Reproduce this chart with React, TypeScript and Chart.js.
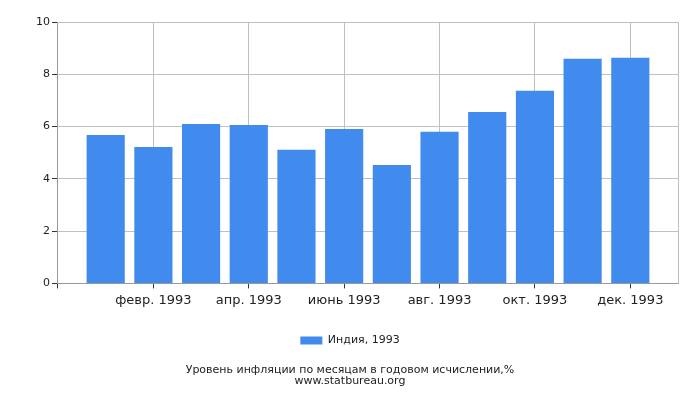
import React, { useEffect, useRef } from "react";
import Chart, { ChartConfiguration } from "chart.js/auto";

// month index 1..12 on a linear axis (0..13), value = inflation %
const months = [1, 2, 3, 4, 5, 6, 7, 8, 9, 10, 11, 12];
const values = [5.68, 5.22, 6.1, 6.06, 5.11, 5.91, 4.53, 5.8, 6.56, 7.37, 8.59, 8.63];
const tickLabels: Record<number, string> = {
  2: "февр. 1993",
  4: "апр. 1993",
  6: "июнь 1993",
  8: "авг. 1993",
  10: "окт. 1993",
  12: "дек. 1993",
};
const seriesName = "Индия, 1993";
const titleLines = ["Уровень инфляции по месяцам в годовом исчислении,%", "www.statbureau.org"];

const font = "'DejaVu Sans', Verdana, sans-serif";

const frame = {
  id: "frame",
  afterDraw(chart: Chart) {
    const { ctx, chartArea } = chart;
    ctx.save();
    ctx.strokeStyle = "#c0c0c0";
    ctx.lineWidth = 1;
    ctx.beginPath();
    ctx.moveTo(chartArea.right + 0.5, chartArea.top);
    ctx.lineTo(chartArea.right + 0.5, chartArea.bottom);
    ctx.stroke();
    ctx.restore();
  },
};

const App: React.FC = () => {
  const chartRef = useRef<HTMLCanvasElement | null>(null);

  useEffect(() => {
    document.body.style.margin = "0";
    if (!chartRef.current) return;
    const ctx = chartRef.current.getContext("2d");
    if (!ctx) return;

    const config: ChartConfiguration = {
      type: "bar",
      data: {
        datasets: [
          {
            label: seriesName,
            data: months.map((m, i) => ({ x: m, y: values[i] })),
            backgroundColor: "#428bee",
            borderWidth: 0,
            barPercentage: 1,
            categoryPercentage: 0.8,
          },
        ],
      },
      plugins: [frame],
      options: {
        animation: false,
        responsive: true,
        maintainAspectRatio: false,
        layout: { padding: { top: 22, right: 22, left: 22, bottom: 13 } },
        scales: {
          x: {
            type: "linear",
            min: 0,
            max: 13,
            offset: false,
            afterFit: (scale) => {
              scale.height += 15;
            },
            ticks: {
              stepSize: 1,
              autoSkip: false,
              maxRotation: 0,
              includeBounds: false,
              padding: 4,
              color: "#222",
              font: { family: font, size: 13 },
              callback: (v) => tickLabels[v as number] ?? "",
            },
            grid: {
              offset: false,
              color: (c) => ((c.tick?.value as number) % 2 === 0 ? "#c0c0c0" : "transparent"),
              tickColor: (c) => ((c.tick?.value as number) % 2 === 0 ? "#333" : "transparent"),
              tickLength: 5,
            },
            border: { color: "#999" },
          },
          y: {
            min: 0,
            max: 10,
            afterFit: (scale) => {
              scale.width += 12;
            },
            ticks: {
              stepSize: 2,
              color: "#222",
              font: { family: font, size: 11 },
              padding: 2,
            },
            grid: { color: "#c0c0c0", tickColor: "#333", tickLength: 6 },
            border: { color: "#999" },
          },
        },
        plugins: {
          legend: {
            position: "bottom",
            labels: {
              boxWidth: 22,
              boxHeight: 8,
              color: "#222",
              font: { family: font, size: 11 },
              padding: 8,
            },
          },
          title: {
            display: true,
            position: "bottom",
            text: titleLines,
            color: "#222",
            font: { family: font, size: 11, weight: "normal", lineHeight: 1 },
            padding: { top: 9, bottom: 0 },
          },
          tooltip: { enabled: false },
        },
      },
    };

    const chart = new Chart(ctx, config);
    return () => {
      chart.destroy();
    };
  }, []);

  return (
    <div style={{ width: 700, height: 400, position: "relative" }}>
      <canvas ref={chartRef} />
    </div>
  );
};

export default App;
